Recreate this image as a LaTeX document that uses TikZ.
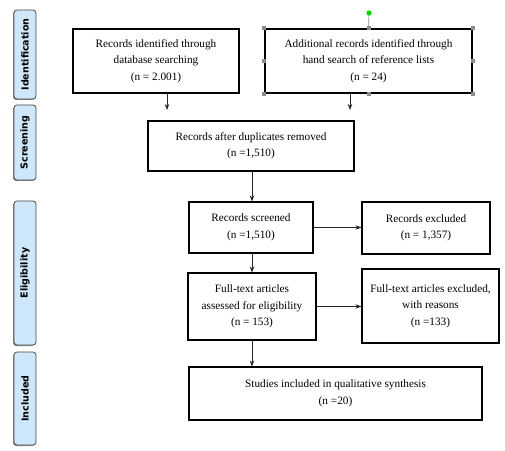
\documentclass[tikz,border=0pt]{standalone}
\usepackage{fontspec}
\setmainfont{Liberation Serif}
\newfontfamily\boxfont{Liberation Serif}
\newfontfamily\tabfont{DejaVu Sans}
\usetikzlibrary{arrows.meta,calc}
\definecolor{tabfill}{HTML}{CFE7FA}
\definecolor{tabedge}{HTML}{4A4A4A}
\definecolor{handle}{HTML}{8C8C8C}
\begin{document}
\begin{tikzpicture}[x=1bp,y=-1bp,
  box/.style={draw=black,line width=1.1bp,align=center,inner sep=2bp,
    font=\boxfont\fontsize{11.3}{16.5}\selectfont},
  tab/.style={draw=tabedge,fill=tabfill,line width=0.8bp,rounded corners=3bp,
    minimum width=22bp,inner sep=0pt},
  tablabel/.style={rotate=90,font=\tabfont\bfseries\fontsize{9.6}{10}\selectfont},
  arr/.style={-{Stealth[length=6bp,width=4.5bp]},line width=0.7bp,draw=black!85},
  hnd/.style={fill=handle,draw=none,minimum size=4bp,inner sep=0pt}]
\useasboundingbox (0,0) rectangle (505,451);
\fill[white] (0,0) rectangle (505,451);

% side tabs
\fill[black!45,rounded corners=3bp] (13,11) rectangle (35,100);
\node[tab,minimum height=89bp] (t1) at (25,54.5) {};
\node[tablabel] at (t1) {Identification};
\fill[black!45,rounded corners=3bp] (13,106) rectangle (35,181);
\node[tab,minimum height=75bp] (t2) at (25,142.5) {};
\node[tablabel] at (t2) {Screening};
\fill[black!45,rounded corners=3bp] (13,202) rectangle (35,346);
\node[tab,minimum height=144bp] (t3) at (25,273) {};
\node[tablabel] at (t3) {Eligibility};
\fill[black!45,rounded corners=3bp] (13,353) rectangle (35,446);
\node[tab,minimum height=93bp] (t4) at (25,398.5) {};
\node[tablabel] at (t4) {Included};

% boxes
\node[box,minimum width=166bp,minimum height=64bp] (b1) at (156,61)
  {Records identified through\\database searching\\(n = 2.001)};
\node[box,minimum width=207bp,minimum height=64bp] (b2) at (368.5,61)
  {Additional records identified through\\hand search of reference lists\\(n = 24)};
\node[box,minimum width=206bp,minimum height=50bp] (dup) at (251,146)
  {Records after duplicates removed\\(n =1,510)};
\node[box,minimum width=124bp,minimum height=51bp] (scr) at (251,227.5)
  {Records screened\\(n =1,510)};
\node[box,minimum width=128bp,minimum height=52bp] (exc) at (426,228)
  {Records excluded\\(n = 1,357)};
\node[box,minimum width=128bp,minimum height=67bp] (full) at (252,306.5)
  {Full-text articles\\assessed for eligibility\\(n = 153)};
\node[box,minimum width=137bp,minimum height=74bp] (fexc) at (430.5,306)
  {Full-text articles excluded,\\with reasons\\(n =133)};
\node[box,minimum width=293bp,minimum height=53bp] (inc) at (335.5,393.5)
  {Studies included in qualitative synthesis\\(n =20)};

% selection handles on b2
\coordinate (gd) at (369,13);
\draw[handle,line width=0.7bp] (gd) -- (b2.north);
\fill[green!85!black] (gd) circle (2.6bp);
\foreach \a in {north west,north,north east,west,east,south west,south,south east}
  \node[hnd] at (b2.\a) {};

% connectors
\coordinate (x1) at (167,0);
\coordinate (x2) at (350,0);
\coordinate (xm) at (252,0);
\coordinate (e1) at (167,110);
\coordinate (e2) at (350,110);
\draw[arr] (b1.south -| x1) -- (e1);
\draw[arr] (b2.south -| x2) -- (e2);
\draw[arr] (dup.south -| xm) -- (scr.north -| xm);
\draw[arr] (scr.east) -- (exc.west |- scr.east);
\draw[arr] (scr.south -| xm) -- (full.north -| xm);
\draw[arr] (full.east) -- (fexc.west |- full.east);
\draw[arr] (full.south -| xm) -- (inc.north -| xm);
\end{tikzpicture}
\end{document}
